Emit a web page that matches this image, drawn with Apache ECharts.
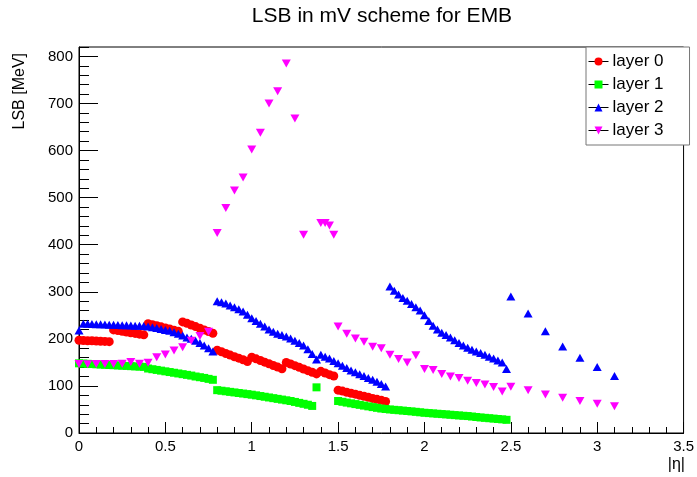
<!DOCTYPE html>
<html>
<head>
<meta charset="utf-8">
<script src="https://cdn.jsdelivr.net/npm/echarts@6/dist/echarts.min.js"></script>
<style>
  html, body { margin: 0; padding: 0; background: #fff; }
  #chart { width: 697px; height: 477px; }
</style>
</head>
<body>
<div id="chart"></div>
<script>
const FONT = '"Liberation Sans", Arial, Helvetica, sans-serif';

// |eta| bins and LSB values (MeV) for each EMB layer
const layer0Eta = [
  0,0.025,0.05,0.075,0.1,0.125,0.15,0.175,0.2,0.225,0.25,0.275,0.3,0.325,0.35,0.375,
  0.4,0.425,0.45,0.475,0.5,0.525,0.55,0.575,0.6,0.625,0.65,0.675,0.7,0.725,0.75,0.775,
  0.8,0.825,0.85,0.875,0.9,0.925,0.95,0.975,1,1.025,1.05,1.075,1.1,1.125,1.15,1.175,
  1.2,1.225,1.25,1.275,1.3,1.325,1.35,1.375,1.4,1.425,1.45,1.475,
  1.5,1.525,1.55,1.575,1.6,1.625,1.65,1.675,1.7,1.725,1.75,1.775
];
const layer0Lsb = [
  197,196.5,196,196,195.5,195,194.5,194,
  219,217.5,216,214.5,213,211.5,210,208.5,
  232,230,228,225.5,223,221,218.5,216,
  236,233,229.5,226,222.5,219,215.5,212,
  176,172.5,169,165.5,162,159,155.5,152,
  161,157.5,154,150.5,147,143.5,140,136.5,
  150,146.5,143,139.5,136,132.5,129,125.5,
  131,127.5,124,121,
  91,89,86.5,84.5,82.5,80,78,76,73.5,71.5,69.5,67
];

const layer1Eta = [
  0,0.025,0.05,0.075,0.1,0.125,0.15,0.175,0.2,0.225,0.25,0.275,0.3,0.325,0.35,0.375,
  0.4,0.425,0.45,0.475,0.5,0.525,0.55,0.575,0.6,0.625,0.65,0.675,0.7,0.725,0.75,0.775,
  0.8,0.825,0.85,0.875,0.9,0.925,0.95,0.975,1,1.025,1.05,1.075,1.1,1.125,1.15,1.175,1.2,1.225,1.25,1.275,1.3,1.325,1.35,
  1.375,
  1.5,1.525,1.55,1.575,1.6,1.625,1.65,1.675,1.7,1.725,1.75,1.775,1.8,1.825,1.85,1.875,1.9,1.925,1.95,1.975,
  2,2.025,2.05,2.075,2.1,2.125,2.15,2.175,2.2,2.225,2.25,2.275,2.3,2.325,2.35,2.375,2.4,2.425,2.45,2.475
];
const layer1Lsb = [
  148,147.5,147,146.5,146,145.5,145,144.5,144,143.5,143,142.5,142,141.5,141,140.5,
  137,135.5,134,132.5,131,129.5,128,126.5,125,123.5,122,120,118.5,117,115,113,
  91,89.8,88.6,87.4,86.2,85,83.8,82.6,81.4,80,78.5,77,75.5,74,72.5,71,69.5,68,66,64,62,60,57.5,
  97,
  68,66.3,64.6,63,61.4,59.8,58.2,56.6,55,53.5,52,51,50,49.2,48.4,47.6,46.7,45.9,45,44,
  43,42.3,41.6,40.9,40.2,39.5,38.8,38,37.3,36.6,36,35,34,33,32.2,31.4,30.6,29.8,29,28
];

const layer2Eta = [
  0,0.025,0.05,0.075,0.1,0.125,0.15,0.175,0.2,0.225,0.25,0.275,0.3,0.325,0.35,0.375,
  0.4,0.425,0.45,0.475,0.5,0.525,0.55,0.575,0.6,0.625,0.65,0.675,0.7,0.725,0.75,0.775,
  0.8,0.825,0.85,0.875,0.9,0.925,0.95,0.975,1,1.025,1.05,1.075,1.1,1.125,1.15,1.175,
  1.2,1.225,1.25,1.275,1.3,1.325,1.35,1.375,
  1.4,1.425,1.45,1.475,1.5,1.525,1.55,1.575,1.6,1.625,1.65,1.675,1.7,1.725,1.75,1.775,
  1.8,1.825,1.85,1.875,1.9,1.925,1.95,1.975,2,2.025,2.05,2.075,2.1,2.125,2.15,2.175,
  2.2,2.225,2.25,2.275,2.3,2.325,2.35,2.375,2.4,2.425,2.45,2.475,
  2.5,2.6,2.7,2.8,2.9,3,3.1
];
const layer2Lsb = [
  218,
  232,232,231.5,231,231,230.5,230,230,229.5,229,229,228.5,228,228,227.5,
  226,224.5,223,221,219,217,214,211,207,203,200,196,191,186,180,173,
  280,278,275,271,267,263,258,251,244,238,232,226,220,215,211,208,205,201,196,191,186,178,168,156,
  166,162,158,153,148,143,138,133,129,125,121,117,113,109,104,99,
  311,302,294,287,281,274,267,260,250,238,228,220,213,208,203,197,191,186,181,177,173,170,166,162,158,154,150,136,
  290,254,216,184,160,140,121
];

const layer3Eta = [
  0,0.05,0.1,0.15,0.2,0.25,0.3,0.35,0.4,0.45,0.5,0.55,0.6,0.65,0.7,0.75,
  0.8,0.85,0.9,0.95,1,1.05,1.1,1.15,1.2,1.25,1.3,
  1.4,1.425,1.45,1.475,
  1.5,1.55,1.6,1.65,1.7,1.75,1.8,1.85,1.9,1.95,2,2.05,2.1,2.15,2.2,2.25,2.3,2.35,2.4,2.45,2.5,
  2.6,2.7,2.8,2.9,3,3.1
];
const layer3Lsb = [
  146.5,146,146.5,146.5,146.5,147,151,147,149.5,161,167,175,182,196,206,215,
  425,478,515,543,602,638,700,726,785,668,421,
  446,446,441,421,
  226,211,201,194,183,180,166,157,150,165,136,134,125.5,120,117,111,106,103,97.5,88,98,
  91,82,75,68,62,57
];

const xTicks = { min: 0, max: 3.5, major: 0.5, minor: 0.1 };
const yTicks = { min: 0, max: 820, major: 100, minor: 20 };

const layerNames = ['layer 0', 'layer 1', 'layer 2', 'layer 3'];

const TRI_DOWN = 'path://M0,0L10,0L5,9Z';
const TRI_UP = 'path://M5,0L10,9L0,9Z';

function makeSeries(name, eta, lsb, color, symbol, size) {
  return {
    name: name,
    type: 'line',
    xAxisIndex: 0,
    yAxisIndex: 0,
    data: eta.map((e, i) => [e, lsb[i]]),
    symbol: symbol,
    symbolSize: size,
    showSymbol: true,
    showAllSymbol: true,
    itemStyle: { color: color, borderWidth: 0, opacity: 1 },
    lineStyle: { width: 0, opacity: 0 },
    emphasis: { disabled: true },
    silent: true,
    animation: false
  };
}

const chart = echarts.init(document.getElementById('chart'), null, { renderer: 'canvas' });

chart.setOption({
  animation: false,
  backgroundColor: '#fff',
  title: {
    text: 'LSB in mV scheme for EMB',
    left: 382,
    top: 6,
    padding: 0,
    textAlign: 'center',
    textStyle: { fontFamily: FONT, fontSize: 21, fontWeight: 'normal', color: '#000' }
  },
  grid: {
    left: 79, top: 47, width: 606, height: 386,
    show: true, borderColor: '#000', borderWidth: 1, backgroundColor: 'transparent',
    containLabel: false
  },
  legend: {
    orient: 'vertical',
    left: 586,
    top: 47,
    padding: [6, 26, 6, 2],
    itemGap: 6,
    itemWidth: 20,
    itemHeight: 10,
    backgroundColor: '#fff',
    borderColor: '#777',
    borderWidth: 1,
    borderRadius: 0,
    selectedMode: false,
    data: layerNames,
    lineStyle: { color: '#000', width: 1, opacity: 1, type: 'solid' },
    textStyle: { fontFamily: FONT, fontSize: 17, color: '#000', padding: [0, 0, 0, -1] }
  },
  xAxis: [
    {
      type: 'value', position: 'bottom', offset: 0,
      min: xTicks.min, max: xTicks.max, interval: xTicks.major,
      axisLine: { show: true, onZero: false, lineStyle: { color: '#000', width: 1 } },
      axisTick: { show: true, inside: true, length: 11, lineStyle: { color: '#000', width: 1 } },
      axisLabel: { fontFamily: FONT, fontSize: 15, color: '#000', margin: 6 },
      splitLine: { show: false }
    },
    {
      type: 'value', position: 'bottom', offset: 0,
      min: xTicks.min, max: xTicks.max, interval: xTicks.minor,
      axisLine: { show: false },
      axisTick: { show: true, inside: true, length: 6, lineStyle: { color: '#000', width: 1 } },
      axisLabel: { show: false },
      splitLine: { show: false }
    }
  ],
  yAxis: [
    {
      type: 'value', position: 'left', offset: 0,
      min: yTicks.min, max: yTicks.max, interval: yTicks.major,
      axisLine: { show: true, onZero: false, lineStyle: { color: '#000', width: 1 } },
      axisTick: { show: true, inside: true, length: 19, lineStyle: { color: '#000', width: 1 } },
      axisLabel: { fontFamily: FONT, fontSize: 15, color: '#000', margin: 6, showMaxLabel: false },
      splitLine: { show: false }
    },
    {
      type: 'value', position: 'left', offset: 0,
      min: yTicks.min, max: yTicks.max, interval: yTicks.minor,
      axisLine: { show: false },
      axisTick: { show: true, inside: true, length: 10, lineStyle: { color: '#000', width: 1 } },
      axisLabel: { show: false },
      splitLine: { show: false }
    }
  ],
  graphic: [
    {
      type: 'text', x: 20, y: 53, rotation: Math.PI / 2,
      style: { text: 'LSB [MeV]', fontFamily: FONT, fontSize: 16, fill: '#000', align: 'right', verticalAlign: 'middle' }
    },
    {
      type: 'text', x: 685, y: 465,
      style: { text: '|η|', fontFamily: FONT, fontSize: 16, fill: '#000', align: 'right', verticalAlign: 'middle' }
    }
  ],
  series: [
    makeSeries(layerNames[0], layer0Eta, layer0Lsb, '#ff0000', 'circle', 9),
    makeSeries(layerNames[1], layer1Eta, layer1Lsb, '#00ff00', 'rect', 8),
    makeSeries(layerNames[2], layer2Eta, layer2Lsb, '#0000ff', TRI_UP, [9, 8]),
    makeSeries(layerNames[3], layer3Eta, layer3Lsb, '#ff00ff', TRI_DOWN, [9, 8])
  ]
});
</script>
</body>
</html>
